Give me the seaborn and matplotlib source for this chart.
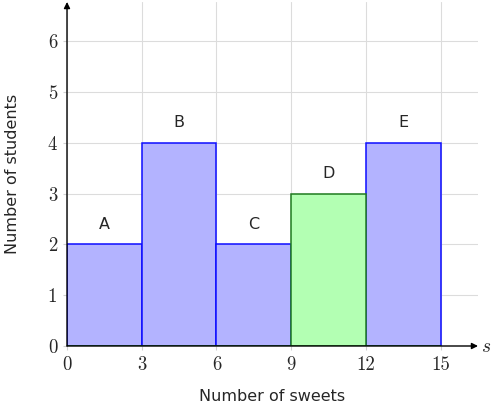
import numpy as np
import pandas as pd
import seaborn as sns
import matplotlib.pyplot as plt

# histogram data
bin_edges = [0, 3, 6, 9, 12, 15]
counts = [2, 4, 2, 3, 4]
bar_labels = ['A', 'B', 'C', 'D', 'E']
highlight = ['no', 'no', 'no', 'yes', 'no']
x_ticks = [0, 3, 6, 9, 12, 15]
y_ticks = [0, 1, 2, 3, 4, 5, 6]

sns.set_theme(style='white')
plt.rcParams['font.family'] = ['DejaVu Sans']
plt.rcParams['mathtext.fontset'] = 'cm'

mids = [(bin_edges[i] + bin_edges[i + 1]) / 2 for i in range(len(counts))]
df = pd.DataFrame({'mid': mids, 'count': counts, 'label': bar_labels, 'hl': highlight})

fig = plt.figure(figsize=(4.92, 4.04), dpi=100)
ax = fig.add_axes([67 / 492, 58 / 404, 411 / 492, 344 / 404])

blue = df[df.hl == 'no']
green = df[df.hl == 'yes']
sns.histplot(data=blue, x='mid', weights='count', bins=bin_edges, color='#b3b3ff',
             alpha=1, edgecolor='#0d0dff', linewidth=1.1, ax=ax, zorder=3)
sns.histplot(data=green, x='mid', weights='count', bins=bin_edges, color='#b3ffb3',
             alpha=1, edgecolor='#1f7a1f', linewidth=1.1, ax=ax, zorder=3)

for _, r in df.iterrows():
    ax.text(r['mid'], r['count'] + 0.4, r['label'], ha='center', va='center', fontsize=11.5)

ax.set_xlim(0, 16.5)
ax.set_ylim(0, 6.77)
ax.set_xticks(x_ticks)
ax.set_yticks(y_ticks)
ax.set_xticklabels([str(t) for t in x_ticks], fontsize=13.5, fontfamily='cmr10')
ax.set_yticklabels([str(t) for t in y_ticks], fontsize=13.5, fontfamily='cmr10')
ax.tick_params(axis='both', length=3, color='#d0d0d0', width=0.8, pad=4, bottom=True, left=True)
ax.grid(True, color='#dcdcdc', linewidth=0.8, zorder=0)
ax.set_axisbelow(True)
for s in ax.spines.values():
    s.set_visible(False)

ax.set_xlabel('Number of sweets', fontsize=11.5, labelpad=11)
ax.set_ylabel('Number of students', fontsize=11.5, labelpad=20)

# axis arrows
ax.annotate('', xy=(1, 0), xytext=(0, 0), xycoords='axes fraction',
            arrowprops=dict(arrowstyle='-|>', color='black', lw=1.0, mutation_scale=9,
                            shrinkA=0, shrinkB=0), zorder=5)
ax.annotate('', xy=(0, 1), xytext=(0, 0), xycoords='axes fraction',
            arrowprops=dict(arrowstyle='-|>', color='black', lw=1.0, mutation_scale=9,
                            shrinkA=0, shrinkB=0), zorder=5)
ax.text(1.02, 0, '$s$', transform=ax.transAxes, ha='center', va='center', fontsize=14)

fig.savefig('out.png', dpi=100)
